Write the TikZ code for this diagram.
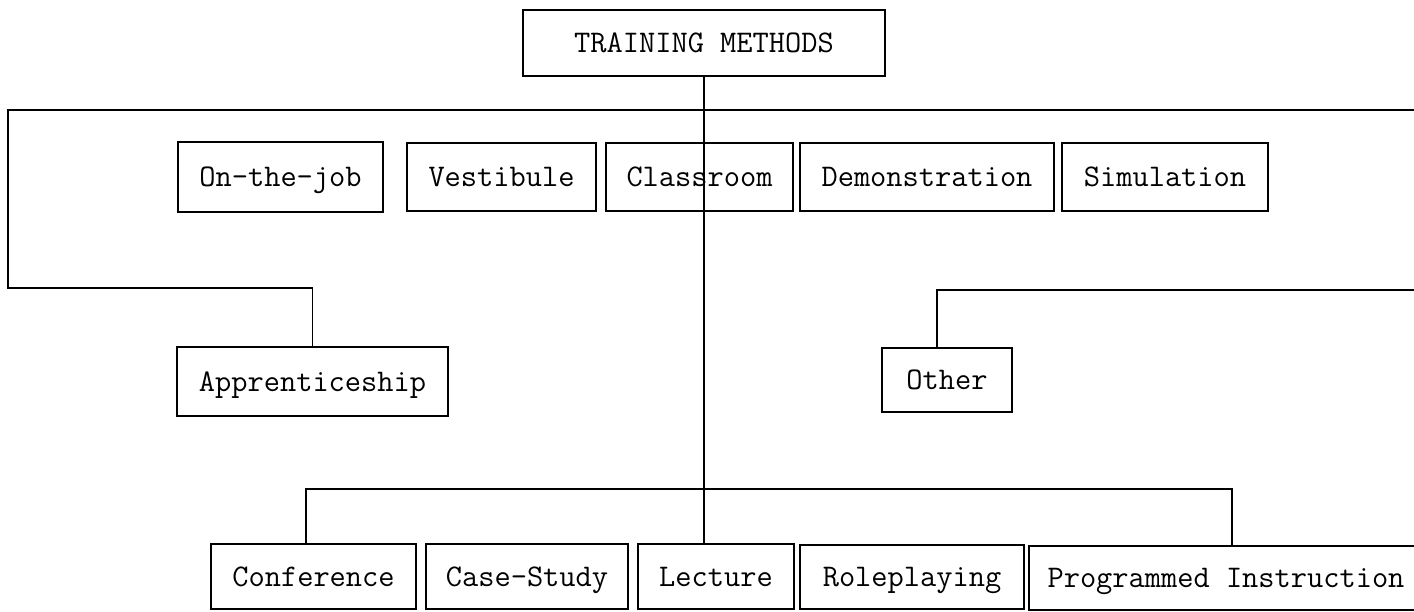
\documentclass[tikz,border=0pt]{standalone}
\usepackage{fontspec}
\begin{document}
\begin{tikzpicture}[x=1pt,y=-1pt,
  mbox/.style={draw, line width=1.6pt, inner sep=0pt, anchor=center,
    font=\ttfamily\fontsize{31.5}{37}\selectfont,
    text height=19.2pt, text depth=0pt},
  link/.style={line width=1.4pt}]
\clip (0,0) rectangle (1414,611);
\fill[white] (0,0) rectangle (1414,611);

% root
\node[mbox, minimum width=362pt, minimum height=66pt] (tm) at (704,43) {TRAINING METHODS};

% first row
\node[mbox, minimum width=205pt, minimum height=70pt] (ojt)   at (280.5,177) {On-the-job};
\node[mbox, minimum width=189pt, minimum height=68pt] (vest)  at (501.5,177) {Vestibule};
\node[mbox, minimum width=187pt, minimum height=68pt] (class) at (699.5,177) {Classroom};
\node[mbox, minimum width=254pt, minimum height=68pt] (demo)  at (927,177)   {Demonstration};
\node[mbox, minimum width=206pt, minimum height=68pt] (sim)   at (1165,177)  {Simulation};

% second row
\node[mbox, minimum width=271pt, minimum height=69pt] (appr)  at (312.5,381.5) {Apprenticeship};
\node[mbox, minimum width=130pt, minimum height=64pt] (other) at (947,380)     {Other};

% bottom row
\node[mbox, minimum width=205pt, minimum height=65pt] (conf) at (313.5,576.5) {Conference};
\node[mbox, minimum width=202pt, minimum height=65pt] (case) at (527,576.5)   {Case-Study};
\node[mbox, minimum width=156pt, minimum height=65pt] (lect) at (716,576.5)   {Lecture};
\node[mbox, minimum width=224pt, minimum height=64pt] (role) at (912,577)     {Roleplaying};
\node[mbox, minimum width=394pt, minimum height=64pt] (prog) at (1226,578)    {Programmed Instruction};

% connector end points
\coordinate (rtop)   at (1414,110);
\coordinate (lcorn)  at (8,288);
\coordinate (rother) at (1414,290);
\coordinate (ojn)    at (937,290);
\coordinate (bl)     at (306,489);
\coordinate (br)     at (1232,489);

% main stem
\draw[link] (tm.south) -- (tm.south |- lect.north);

% upper bracket to Apprenticeship
\draw[link] (rtop) -| (lcorn) -| (appr.north);

% branch to Other
\draw[link] (rother) -- (ojn) -- (ojn |- other.north);

% lower bracket
\draw[link] (bl |- conf.north) -- (bl) -- (br) -- (br |- prog.north);
\end{tikzpicture}
\end{document}
